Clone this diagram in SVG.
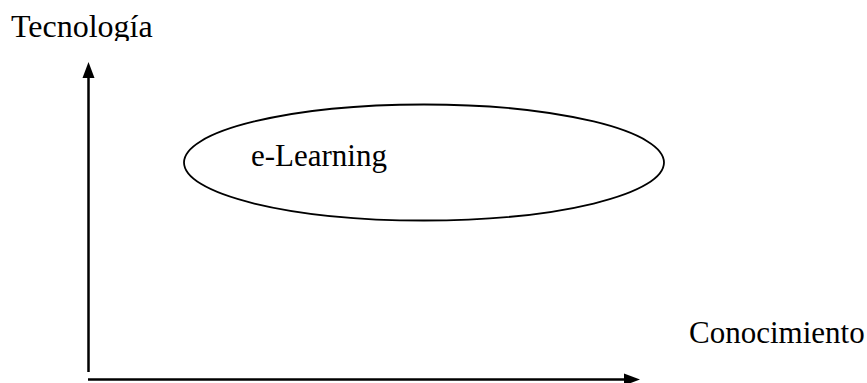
<svg xmlns="http://www.w3.org/2000/svg" width="867" height="383" viewBox="0 0 867 383">
<style>
text{font-family:"Liberation Serif","Times New Roman",serif;font-size:31px;fill:#000}
.ax{stroke:#000;stroke-width:2.5;fill:none}
</style>
<defs>
<clipPath id="topclip"><rect x="0" y="0" width="200" height="41"/></clipPath>
</defs>
<rect width="867" height="383" fill="#fff"/>
<g id="connectors">
<line class="ax" x1="88.5" y1="372" x2="88.5" y2="76"/>
<polygon points="88.5,62 82.5,78 94.5,78" fill="#000"/>
<line class="ax" x1="88" y1="379.5" x2="626" y2="379.5"/>
<polygon points="640,379.5 624,373.5 624,385.5" fill="#000"/>
</g>
<g id="y-axis-label" clip-path="url(#topclip)"><text x="11" y="37" style="font-size:32px">Tecnología</text></g>
<g id="x-axis-label"><text x="689" y="343">Conocimiento</text></g>
<g id="elearning">
<ellipse cx="424" cy="162.5" rx="240" ry="58" fill="none" stroke="#000" stroke-width="1.8"/>
<text x="251" y="166">e-Learning</text>
</g>
</svg>
